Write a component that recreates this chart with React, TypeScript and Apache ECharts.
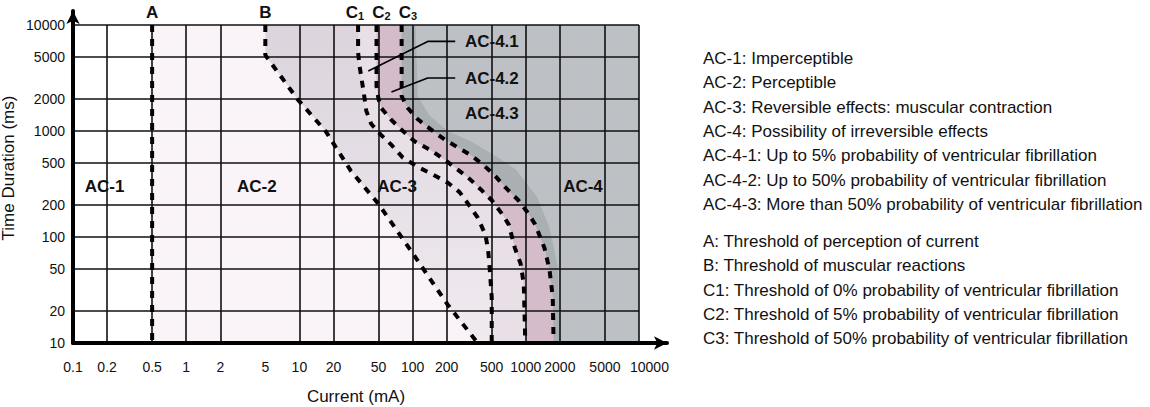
import React, { useEffect, useRef } from "react";
import * as echarts from "echarts";

// ---- axes ----
const xTickValues = [0.1, 0.2, 0.5, 1, 2, 5, 10, 20, 50, 100, 200, 500, 1000, 2000, 5000, 10000];
const xTickLabels = ["0.1", "0.2", "0.5", "1", "2", "5", "10", "20", "50", "100", "200", "500", "1000", "2000", "5000", "10000"];
// the reference has no vertical grid line at 5 mA
const xGridValues = [0.1, 0.2, 0.5, 1, 2, 10, 20, 50, 100, 200, 500, 1000, 2000, 5000, 10000];
const yTickValues = [10, 20, 50, 100, 200, 500, 1000, 2000, 5000, 10000];
const yTickLabels = ["10", "20", "50", "100", "200", "500", "1000", "2000", "5000", "10000"];

// ---- threshold curves: [current mA, duration ms], from top to bottom ----
const curveA = [[0.5, 10000], [0.5, 10]];
const curveB = [[5, 10000], [5, 5200], [9.6, 2000], [17, 1000], [28.5, 420], [50, 205], [96, 75], [204, 23], [376, 10]];
const curveC1 = [[33, 10000], [33, 5500], [34, 4100], [37, 2300], [39, 1550], [43, 1170], [52, 930], [65, 740], [82, 560], [115, 450], [150, 390], [205, 325], [260, 265], [310, 205], [375, 153], [440, 105], [465, 75], [480, 50], [500, 27], [500, 10]];
const curveC2 = [[48, 10000], [48, 2650], [50, 2000], [53, 1640], [65, 1270], [82, 1000], [104, 800], [144, 660], [192, 535], [238, 450], [310, 363], [400, 281], [500, 222], [620, 164], [707, 131], [800, 79], [900, 56], [960, 36], [990, 10]];
const curveC3 = [[80, 10000], [80, 2130], [91, 1640], [111, 1290], [144, 1040], [192, 830], [247, 707], [330, 588], [420, 479], [533, 380], [660, 294], [860, 222], [1065, 164], [1210, 131], [1460, 79], [1620, 49], [1730, 27], [1760, 10]];
// outer edge of the darker shade next to C3
const shadeEdge = [[106, 10000], [111, 2130], [141, 1400], [204, 1000], [329, 794], [533, 588], [822, 431], [1260, 237], [1620, 122], [1920, 52], [2000, 10]];

// ---- annotations ----
const curveLetters = [
  { text: "A", current: 0.5 },
  { text: "B", current: 5 },
  { text: "C{s|1}", current: 31 },
  { text: "C{s|2}", current: 53 },
  { text: "C{s|3}", current: 91 },
];
const zoneLabels = [
  { text: "AC-1", current: 0.19, duration: 300 },
  { text: "AC-2", current: 4.2, duration: 300 },
  { text: "AC-3", current: 73, duration: 300 },
  { text: "AC-4", current: 3200, duration: 300 },
];
const subZoneLabels = [
  { text: "AC-4.1", current: 290, duration: 7000 },
  { text: "AC-4.2", current: 290, duration: 3150 },
  { text: "AC-4.3", current: 290, duration: 1450 },
];
const leaderAC41 = [[238, 7000], [136, 7000], [40.6, 3680]];
const leaderAC42 = [[238, 3160], [136, 3160], [65, 2330]];

const zoneDescriptions = [
  "AC-1: Imperceptible",
  "AC-2: Perceptible",
  "AC-3: Reversible effects: muscular contraction",
  "AC-4: Possibility of irreversible effects",
  "AC-4-1: Up to 5% probability of ventricular fibrillation",
  "AC-4-2: Up to 50% probability of ventricular fibrillation",
  "AC-4-3: More than 50% probability of ventricular fibrillation",
];
const curveDescriptions = [
  "A: Threshold of perception of current",
  "B: Threshold of muscular reactions",
  "C1: Threshold of 0% probability of ventricular fibrillation",
  "C2: Threshold of 5% probability of ventricular fibrillation",
  "C3: Threshold of 50% probability of ventricular fibrillation",
];

const FONT = '"Liberation Sans", Arial, sans-serif';
const INK = "#111111";
const L = (v: number) => Math.log10(v);
const toXY = (pts: number[][]) => pts.map(([c, t]) => [L(c), L(t)]);
const xMin = xTickValues[0];
const xMax = xTickValues[xTickValues.length - 1];
const yMin = yTickValues[0];
const yMax = yTickValues[yTickValues.length - 1];

function labelFor(values: number[], labels: string[], shiftLast: boolean) {
  return (v: number) => {
    const i = values.findIndex((t) => Math.abs(L(t) - v) < 1e-6);
    if (i < 0) return "";
    // the last current label sits a little to the right of its grid line
    if (shiftLast && i === values.length - 1) return `{last|${labels[i]}}`;
    return labels[i];
  };
}

function regionSeries(name: string, curve: number[][], fill: any) {
  return {
    type: "custom",
    name,
    silent: true,
    z: 1,
    clip: true,
    xAxisIndex: 0,
    yAxisIndex: 0,
    data: [[L(xMax), L(yMax)]],
    renderItem: (_params: any, api: any) => {
      const pts = [...toXY(curve), [L(xMax), L(yMin)], [L(xMax), L(yMax)]].map((p) => api.coord(p));
      return { type: "polygon", shape: { points: pts }, style: { fill } };
    },
  };
}

function dashedSeries(name: string, curve: number[][]) {
  return {
    type: "line",
    name,
    silent: true,
    z: 5,
    xAxisIndex: 0,
    yAxisIndex: 0,
    data: toXY(curve),
    showSymbol: false,
    symbol: "none",
    lineStyle: { color: "#000", width: 4, type: [7, 7] },
  };
}

function leaderSeries(name: string, pts: number[][]) {
  return {
    type: "line",
    name,
    silent: true,
    z: 5,
    xAxisIndex: 0,
    yAxisIndex: 0,
    data: toXY(pts),
    showSymbol: false,
    symbol: "none",
    lineStyle: { color: "#000", width: 1.6, type: "solid" },
  };
}

const boldLabel = {
  show: true,
  formatter: "{b}",
  color: INK,
  opacity: 1,
  fontSize: 17,
  fontWeight: "bold",
  fontFamily: FONT,
  textBorderWidth: 0,
};

export default function App() {
  const ref = useRef<HTMLDivElement>(null);
  useEffect(() => {
    if (!ref.current) return;
    const chart = echarts.init(ref.current, undefined, { renderer: "svg" });
    const option: any = {
      animation: false,
      backgroundColor: "#ffffff",
      textStyle: { fontFamily: FONT },
      grid: [
        { left: 73, right: 511, top: 25, bottom: 64, containLabel: false, outerBoundsMode: "none" },
        { left: 73, right: 483, top: 11, bottom: 64, containLabel: false, outerBoundsMode: "none" },
      ],
      xAxis: [
        {
          type: "value",
          gridIndex: 0,
          min: L(xMin),
          max: L(xMax),
          z: 3,
          axisLine: { show: false, onZero: false },
          axisTick: { show: false, customValues: xGridValues.map(L) },
          splitLine: { show: true, lineStyle: { color: INK, width: 1.6 } },
          axisLabel: {
            customValues: xTickValues.map(L),
            formatter: labelFor(xTickValues, xTickLabels, true),
            showMinLabel: true,
            showMaxLabel: true,
            hideOverlap: false,
            color: INK,
            fontSize: 14,
            fontFamily: FONT,
            margin: 17,
            rich: {
              last: { fontSize: 14, fontFamily: FONT, color: INK, width: 18, align: "left" },
            },
          },
          name: "Current (mA)",
          nameLocation: "middle",
          nameGap: 45,
          nameTextStyle: { fontSize: 17, color: INK, fontFamily: FONT },
        },
        {
          type: "value",
          gridIndex: 1,
          min: 0,
          max: 1,
          z: 6,
          axisLine: {
            show: true,
            onZero: false,
            symbol: ["none", "arrow"],
            symbolSize: [10, 13],
            lineStyle: { color: "#000", width: 4 },
          },
          axisTick: { show: false },
          axisLabel: { show: false },
          splitLine: { show: false },
        },
      ],
      yAxis: [
        {
          type: "value",
          gridIndex: 0,
          min: L(yMin),
          max: L(yMax),
          z: 3,
          axisLine: { show: false, onZero: false },
          axisTick: { show: false, customValues: yTickValues.map(L) },
          splitLine: { show: true, lineStyle: { color: INK, width: 1.6 } },
          axisLabel: {
            customValues: yTickValues.map(L),
            formatter: labelFor(yTickValues, yTickLabels, false),
            showMinLabel: true,
            showMaxLabel: true,
            color: INK,
            fontSize: 14,
            fontFamily: FONT,
            margin: 8,
          },
        },
        {
          type: "value",
          gridIndex: 1,
          min: 0,
          max: 1,
          z: 6,
          axisLine: {
            show: true,
            onZero: false,
            symbol: ["none", "arrow"],
            symbolSize: [10, 13],
            lineStyle: { color: "#000", width: 4 },
          },
          axisTick: { show: false },
          axisLabel: { show: false },
          splitLine: { show: false },
          name: "Time Duration (ms)",
          nameLocation: "middle",
          nameGap: 56,
          nameTextStyle: { fontSize: 17, color: INK, fontFamily: FONT, padding: [0, 0, 0, 18] },
        },
      ],
      series: [
        regionSeries("AC-2 zone", curveA, "#faf3f7"),
        regionSeries(
          "AC-3 zone",
          curveB,
          new echarts.graphic.LinearGradient(0, 0, 0, 1, [
            { offset: 0, color: "#dcd3dd" },
            { offset: 1, color: "#f1ebf0" },
          ])
        ),
        regionSeries("AC-4.1 zone", curveC1, "#e8e0e6"),
        regionSeries("AC-4.2 zone", curveC2, "#d5bccb"),
        regionSeries("AC-4.3 zone", curveC3, "#aaafb3"),
        regionSeries("AC-4 zone", shadeEdge, "#bdc0c4"),
        dashedSeries("A", curveA),
        dashedSeries("B", curveB),
        dashedSeries("C1", curveC1),
        dashedSeries("C2", curveC2),
        dashedSeries("C3", curveC3),
        leaderSeries("AC-4.1 leader", leaderAC41),
        leaderSeries("AC-4.2 leader", leaderAC42),
        {
          type: "scatter",
          name: "curve letters",
          silent: true,
          z: 7,
          symbolSize: 0,
          itemStyle: { opacity: 1 },
          clip: false,
          data: curveLetters.map((d) => ({ name: d.text, value: [L(d.current), L(yMax)] })),
          label: {
            ...boldLabel,
            position: "top",
            distance: 4,
            rich: {
              s: { fontSize: 11, fontWeight: "bold", fontFamily: FONT, color: INK, verticalAlign: "bottom", padding: [5, 0, 0, 0] },
            },
          },
        },
        {
          type: "scatter",
          name: "zone labels",
          silent: true,
          z: 7,
          symbolSize: 0,
          itemStyle: { opacity: 1 },
          data: zoneLabels.map((d) => ({ name: d.text, value: [L(d.current), L(d.duration)] })),
          label: { ...boldLabel, position: "inside" },
        },
        {
          type: "scatter",
          name: "sub-zone labels",
          silent: true,
          z: 7,
          symbolSize: 0,
          itemStyle: { opacity: 1 },
          data: subZoneLabels.map((d) => ({ name: d.text, value: [L(d.current), L(d.duration)] })),
          label: { ...boldLabel, position: "right", distance: 0 },
        },
      ],
      graphic: [
        {
          type: "text",
          left: 703,
          top: 46,
          style: { text: zoneDescriptions.join("\n"), font: `17px ${FONT}`, lineHeight: 24.4, fill: INK },
        },
        {
          type: "text",
          left: 703,
          top: 229,
          style: { text: curveDescriptions.join("\n"), font: `17px ${FONT}`, lineHeight: 24.4, fill: INK },
        },
      ],
    };
    chart.setOption(option);
    return () => chart.dispose();
  }, []);
  return (
    <div
      ref={ref}
      style={{ position: "fixed", left: 0, top: 0, width: 1150, height: 407, background: "#fff" }}
    />
  );
}
